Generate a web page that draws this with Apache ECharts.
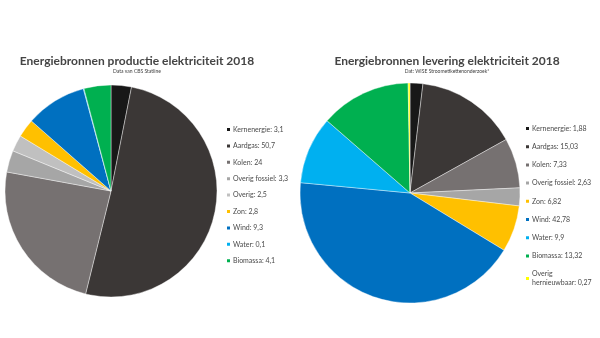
<!DOCTYPE html>
<html>
<head>
<meta charset="utf-8">
<script src="https://cdn.jsdelivr.net/npm/echarts@6/dist/echarts.min.js"></script>
<style>
html,body{margin:0;padding:0;background:#fff;}
#chart{width:600px;height:338px;}
</style>
</head>
<body>
<div id="chart"></div>
<script>
// Productie 2018 (CBS Statline)
const prodCategories = ['Kernenergie','Aardgas','Kolen','Overig fossiel','Overig','Zon','Wind','Water','Biomassa'];
const prodValues = [3.1, 50.7, 24, 3.3, 2.5, 2.8, 9.3, 0.1, 4.1];
// Levering 2018 (WISE Stroometikettenonderzoek)
const levCategories = ['Kernenergie','Aardgas','Kolen','Overig fossiel','Zon','Wind','Water','Biomassa','Overig hernieuwbaar'];
const levValues = [1.88, 15.03, 7.33, 2.63, 6.82, 42.78, 9.9, 13.32, 0.27];

const colorMap = {
  'Kernenergie':'#181818',
  'Aardgas':'#3b3736',
  'Kolen':'#767171',
  'Overig fossiel':'#a6a6a6',
  'Overig':'#c0c0c0',
  'Zon':'#ffc000',
  'Wind':'#0070c0',
  'Water':'#00b0f0',
  'Biomassa':'#00b050',
  'Overig hernieuwbaar':'#ffff00'
};

function fmt(v){ return String(v).replace('.', ','); }
function makeData(cats, vals){
  return cats.map((c,i)=>({name:c, value:vals[i], itemStyle:{color:colorMap[c]}}));
}
const prodMap = {}; prodCategories.forEach((c,i)=>prodMap[c]=prodValues[i]);
const levMap = {}; levCategories.forEach((c,i)=>levMap[c]=levValues[i]);

const FONT = 'Lato, "Open Sans", sans-serif';
const chart = echarts.init(document.getElementById('chart'));
chart.setOption({
  animation:false,
  backgroundColor:'#fff',
  title:[
    {text:'Energiebronnen productie elektriciteit 2018', subtext:'Data van CBS Statline',
     left:137, top:55, textAlign:'center', padding:0, itemGap:2,
     textStyle:{fontFamily:FONT, fontSize:12, fontWeight:'bold', color:'#454545'},
     subtextStyle:{fontFamily:FONT, fontSize:5, color:'#404040'}},
    {text:'Energiebronnen levering elektriciteit 2018', subtext:'Dat: WISE Stroometikettenonderzoek*',
     left:447, top:55, textAlign:'center', padding:0, itemGap:2,
     textStyle:{fontFamily:FONT, fontSize:12, fontWeight:'bold', color:'#454545'},
     subtextStyle:{fontFamily:FONT, fontSize:5, color:'#404040'}}
  ],
  legend:[
    {data:prodCategories, orient:'vertical', left:225, top:126, padding:0,
     itemWidth:5, itemHeight:5, itemGap:9.4, icon:'rect',
     formatter:(n)=> n + ': ' + fmt(prodMap[n]),
     textStyle:{fontFamily:FONT, fontSize:7, color:'#4a4a4a', padding:[0,0,0,-3]}},
    {data:levCategories, orient:'vertical', left:524, top:124, padding:0,
     itemWidth:5, itemHeight:5, itemGap:9.2, icon:'rect',
     formatter:(n)=> (n==='Overig hernieuwbaar' ? 'Overig\nhernieuwbaar' : n) + ': ' + fmt(levMap[n]),
     textStyle:{fontFamily:FONT, fontSize:7, color:'#4a4a4a', padding:[0,0,0,-3], lineHeight:9}}
  ],
  series:[
    {type:'pie', center:[111,191], radius:[0,106], startAngle:90, clockwise:true,
     label:{show:false}, labelLine:{show:false}, silent:true,
     itemStyle:{borderColor:'#fff', borderWidth:0.4},
     data:makeData(prodCategories, prodValues)},
    {type:'pie', center:[410,193], radius:[0,110], startAngle:90, clockwise:true,
     label:{show:false}, labelLine:{show:false}, silent:true,
     itemStyle:{borderColor:'#fff', borderWidth:0.4},
     data:makeData(levCategories, levValues)}
  ]
});
</script>
</body>
</html>
